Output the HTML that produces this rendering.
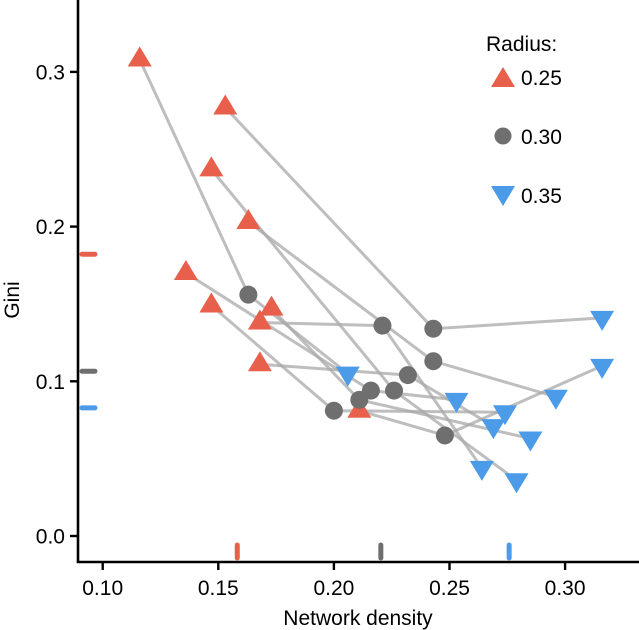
<!DOCTYPE html>
<html><head><meta charset="utf-8"><style>
body{margin:0;background:#fff}
svg{display:block;font-family:"Liberation Sans",Arial,sans-serif}
</style></head><body>
<svg id="chart" width="639" height="630" viewBox="0 0 639 630">
<g id="lines"></g>
<g id="points"></g>
<g id="axes"></g>
<g>
<text x="486" y="51" font-size="21">Radius:</text>
<polygon points="491,87 503,67 515,87" fill="#E8604C"/>
<text x="521" y="85" font-size="21">0.25</text>
<circle cx="503" cy="136" r="8.5" fill="#6F6F6F"/>
<text x="521" y="144" font-size="21">0.30</text>
<polygon points="491,186 515,186 503,206" fill="#4C9BE8"/>
<text x="521" y="203" font-size="21">0.35</text>
</g>
</svg>
<script>
const upX=[0.116,0.153,0.147,0.163,0.136,0.147,0.173,0.168,0.168,0.211];
const upY=[0.308,0.277,0.237,0.203,0.170,0.149,0.147,0.138,0.111,0.081];
const midX=[0.163,0.243,0.226,0.243,0.216,0.200,0.211,0.221,0.232,0.248];
const midY=[0.156,0.134,0.094,0.113,0.094,0.081,0.088,0.136,0.104,0.065];
const downX=[0.206,0.316,0.279,0.296,0.253,0.274,0.285,0.264,0.269,0.316];
const downY=[0.105,0.141,0.036,0.090,0.088,0.080,0.063,0.044,0.071,0.110];
const xTicks=[0.10,0.15,0.20,0.25,0.30];
const xTickLabels=["0.10","0.15","0.20","0.25","0.30"];
const yTicks=[0.0,0.1,0.2,0.3];
const yTickLabels=["0.0","0.1","0.2","0.3"];

const NS="http://www.w3.org/2000/svg";
const sx=v=>102.7+(v-0.10)*2312;
const sy=v=>536-v*1547;
function mk(tag,attrs,parent){const e=document.createElementNS(NS,tag);for(const k in attrs)e.setAttribute(k,attrs[k]);parent.appendChild(e);return e;}
const gL=document.getElementById('lines'),gP=document.getElementById('points'),gA=document.getElementById('axes');
const mean=a=>a.reduce((s,v)=>s+v,0)/a.length;

for(let i=0;i<upX.length;i++){
  const p=mk('polyline',{points:`${sx(upX[i])},${sy(upY[i])} ${sx(midX[i])},${sy(midY[i])} ${sx(downX[i])},${sy(downY[i])}`,fill:'none',stroke:'#a8a8a8','stroke-opacity':'0.75','stroke-width':'3'},gL);
  
  
}
function up(cx,cy,c){return mk('polygon',{points:`${cx-12},${cy+7} ${cx},${cy-13} ${cx+12},${cy+7}`,fill:c},gP);}
function dn(cx,cy,c){return mk('polygon',{points:`${cx-12},${cy-7} ${cx+12},${cy-7} ${cx},${cy+13}`,fill:c},gP);}
for(let i=0;i<upX.length;i++){
  const e=up(sx(upX[i]),sy(upY[i]),'#E8604C');
  
  
}
for(let i=0;i<midX.length;i++){
  const e=mk('circle',{cx:sx(midX[i]),cy:sy(midY[i]),r:9,fill:'#6F6F6F'},gP);
  
  
}
for(let i=0;i<downX.length;i++){
  const e=dn(sx(downX[i]),sy(downY[i]),'#4C9BE8');
  
  
}
let a=mk('line',{x1:78,y1:0,x2:78,y2:562,stroke:'#000','stroke-width':2.6},gA);


a=mk('line',{x1:76.7,y1:562,x2:639,y2:562,stroke:'#000','stroke-width':2.6},gA);


xTicks.forEach((v,i)=>{
  const t=mk('line',{x1:sx(v),y1:562,x2:sx(v),y2:570,stroke:'#000','stroke-width':2.4},gA);
  
  
  const l=mk('text',{x:sx(v),y:595,'font-size':21,'text-anchor':'middle'},gA);l.textContent=xTickLabels[i];
  
  
});
yTicks.forEach((v,i)=>{
  const t=mk('line',{x1:70,y1:sy(v),x2:78,y2:sy(v),stroke:'#000','stroke-width':2.4},gA);
  
  
  const l=mk('text',{x:65,y:sy(v)+7.5,'font-size':21,'text-anchor':'end'},gA);l.textContent=yTickLabels[i];
  
  
});
let xt=mk('text',{x:358,y:625,'font-size':21,'text-anchor':'middle'},gA);xt.textContent='Network density';


let yt=mk('text',{x:0,y:0,'font-size':21,'text-anchor':'middle',transform:'translate(19,300) rotate(-90)'},gA);yt.textContent='Gini';


[[upX,upY,'#E8604C'],[midX,midY,'#6F6F6F'],[downX,downY,'#4C9BE8']].forEach(([X,Y,c])=>{
  const rx=mk('line',{x1:sx(mean(X)),y1:545,x2:sx(mean(X)),y2:558,stroke:c,'stroke-width':5,'stroke-linecap':'round'},gA);
  
  
  const ry=mk('line',{x1:82,y1:sy(mean(Y)),x2:95,y2:sy(mean(Y)),stroke:c,'stroke-width':5,'stroke-linecap':'round'},gA);
  
  
});
</script>
</body></html>
